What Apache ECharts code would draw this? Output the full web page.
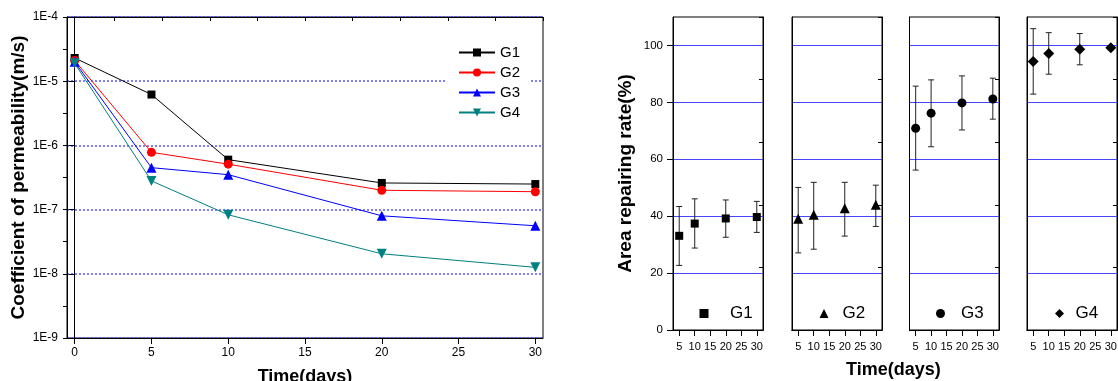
<!DOCTYPE html>
<html>
<head>
<meta charset="utf-8">
<script src="https://cdn.jsdelivr.net/npm/echarts@6/dist/echarts.min.js"></script>
<style>
  html, body { margin: 0; padding: 0; background: #fff; }
  #chart { width: 1118px; height: 381px; }
</style>
</head>
<body>
<div id="chart"></div>
<script>
// permeability (m/s) per group, left panel
const days = [0, 5, 10, 20, 30];
const permG1 = [2.3e-5, 6.2e-6, 6.0e-7, 2.6e-7, 2.5e-7];
const permG2 = [2.1e-5, 7.8e-7, 5.1e-7, 2.0e-7, 1.9e-7];
const permG3 = [2.0e-5, 4.5e-7, 3.5e-7, 8.0e-8, 5.6e-8];
const permG4 = [1.9e-5, 2.8e-7, 8.3e-8, 2.05e-8, 1.26e-8];

// area repairing rate (%) with error bar ends, right panels
const repairDays = [5, 10, 20, 30];
const rateG1 = [33.1, 37.4, 39.2, 39.7];
const lowG1 = [22.7, 28.8, 32.6, 34.3];
const highG1 = [43.4, 46.1, 45.7, 45.2];
const rateG2 = [39.1, 40.5, 42.8, 44.0];
const lowG2 = [27.1, 28.4, 33.0, 36.4];
const highG2 = [50.1, 51.9, 51.9, 50.9];
const rateG3 = [70.9, 76.2, 79.8, 81.2];
const lowG3 = [56.2, 64.4, 70.3, 74.1];
const highG3 = [85.7, 87.9, 89.3, 88.5];
const rateG4 = [94.4, 97.2, 98.7, 99.2];
const lowG4 = [82.9, 89.9, 93.2, 98.5];
const highG4 = [105.9, 104.5, 104.2, 99.9];

const groups = ["G1", "G2", "G3", "G4"];
const timeTicks = [0, 5, 10, 15, 20, 25, 30];
const repairTicks = [5, 10, 15, 20, 25, 30];
const rateTicks = [0, 20, 40, 60, 80, 100];

const FONT = "Liberation Sans, Arial, sans-serif";

const permSeries = [permG1, permG2, permG3, permG4];
const lineColors = ["#000000", "#ff0000", "#0000ff", "#008080"];
const lineSymbols = ["rect", "circle", "triangle", "triangle"];
const lineSymbolSizes = [8, 9, 10, 10];
const lineRotate = [0, 0, 0, 180];

const rateSeries = [rateG1, rateG2, rateG3, rateG4];
const lowSeries = [lowG1, lowG2, lowG3, lowG4];
const highSeries = [highG1, highG2, highG3, highG4];
const rateSymbols = ["rect", "triangle", "circle", "diamond"];
const rateSymbolSizes = [8, 10, 9, 11];

// panel layout (right chart)
const panelLeft = [673, 792, 909.5, 1027];
const panelWidth = [90, 90, 89.5, 90];
const legendCenter = [704, 824, 940.5, 1059.5];
const legendText = [731, 843.5, 962, 1076.5];

const chart = echarts.init(document.getElementById("chart"), null, { renderer: "canvas" });

const grids = [{ left: 67, top: 17, width: 476, height: 321 }];
panelLeft.forEach((l, i) => grids.push({ left: l, top: 17, width: panelWidth[i], height: 313 }));
grids.forEach((g) => {
  g.show = true;
  g.borderColor = "#000";
  g.borderWidth = 1;
  g.backgroundColor = "#fff";
  g.containLabel = false;
  g.outerBoundsMode = "none";
});

const axisLine = { show: true, lineStyle: { color: "#000", width: 1 } };
const labelStyle = { color: "#000", fontFamily: FONT };

const xAxes = [
  {
    type: "value", gridIndex: 0, min: -0.5, max: 30.5,
    axisLine, splitLine: { show: false },
    axisTick: { inside: false, length: 6, customValues: timeTicks, lineStyle: { color: "#000" } },
    axisLabel: { ...labelStyle, fontSize: 12, margin: 9, customValues: timeTicks },
    name: "Time(days)", nameLocation: "middle", nameGap: 30,
    nameTextStyle: { fontFamily: FONT, fontWeight: "bold", fontSize: 18, color: "#000" },
  },
  {
    type: "value", gridIndex: 0, position: "top", min: 0, max: 10, interval: 1,
    axisLine, splitLine: { show: false }, axisLabel: { show: false },
    axisTick: { inside: true, length: 4, lineStyle: { color: "#000" } },
  },
];
const yAxes = [
  {
    type: "log", logBase: 10, gridIndex: 0, min: 1e-9, max: 1e-4,
    axisLine,
    axisTick: { inside: false, length: 6, lineStyle: { color: "#000" } },
    minorTick: { show: false },
    axisLabel: {
      ...labelStyle, fontSize: 12, margin: 9,
      formatter: (v) => "1E" + Math.round(Math.log10(v)),
    },
    splitLine: { show: true, lineStyle: { color: "#5555ff", type: [2, 2], width: 1.5 } },
    name: "Coefficient of permeability(m/s)", nameLocation: "middle", nameGap: 37,
    nameTextStyle: { fontFamily: FONT, fontWeight: "bold", fontSize: 19, color: "#000" },
  },
  {
    type: "value", gridIndex: 0, position: "right", min: 0, max: 10, interval: 1,
    axisLine, splitLine: { show: false }, axisLabel: { show: false },
    axisTick: { inside: true, length: 4, lineStyle: { color: "#000" } },
  },
];

groups.forEach((g, i) => {
  const gi = i + 1;
  xAxes.push({
    type: "value", gridIndex: gi, min: 3, max: 32,
    axisLine, splitLine: { show: false },
    axisTick: { inside: false, length: 6, customValues: repairTicks, lineStyle: { color: "#000" } },
    axisLabel: { ...labelStyle, fontSize: 11, margin: 11, customValues: repairTicks },
  });
  xAxes.push({
    type: "value", gridIndex: gi, position: "top", min: 3, max: 32,
    axisLine, splitLine: { show: false }, axisLabel: { show: false },
    axisTick: { inside: true, length: 3, customValues: repairTicks, lineStyle: { color: "#000" } },
  });
  const y = {
    type: "value", gridIndex: gi, min: 0, max: 110, interval: 20,
    axisLine,
    axisTick: { show: i === 0, inside: false, length: 6, customValues: rateTicks, lineStyle: { color: "#000" } },
    axisLabel: { show: i === 0, ...labelStyle, fontSize: 11.5, margin: 10, customValues: rateTicks },
    splitLine: { show: true, lineStyle: { color: "#4646ff", width: 1 } },
  };
  if (i === 0) {
    y.name = "Area repairing rate(%)";
    y.nameLocation = "middle";
    y.nameGap = 38;
    y.nameTextStyle = { fontFamily: FONT, fontWeight: "bold", fontSize: 19, color: "#000" };
  }
  yAxes.push(y);
  yAxes.push({
    type: "value", gridIndex: gi, position: "right", min: 0, max: 5, interval: 1,
    axisLine, splitLine: { show: false }, axisLabel: { show: false },
    axisTick: { inside: true, length: 4, lineStyle: { color: "#000" } },
  });
});

function renderErrorBar(params, api) {
  const x = api.value(0);
  const lo = api.coord([x, api.value(1)]);
  const hi = api.coord([x, api.value(2)]);
  const hw = 3;
  const style = { stroke: "#222", lineWidth: 1 };
  return {
    type: "group",
    children: [
      { type: "line", shape: { x1: lo[0], y1: lo[1], x2: hi[0], y2: hi[1] }, style },
      { type: "line", shape: { x1: lo[0] - hw, y1: lo[1], x2: lo[0] + hw, y2: lo[1] }, style },
      { type: "line", shape: { x1: hi[0] - hw, y1: hi[1], x2: hi[0] + hw, y2: hi[1] }, style },
    ],
  };
}

const series = [];
groups.forEach((g, i) => {
  series.push({
    name: g, type: "line", xAxisIndex: 0, yAxisIndex: 0,
    data: days.map((d, j) => [d, permSeries[i][j]]),
    symbol: lineSymbols[i], symbolSize: lineSymbolSizes[i], symbolRotate: lineRotate[i],
    color: lineColors[i],
    lineStyle: { color: lineColors[i], width: 1 },
    itemStyle: { color: lineColors[i] },
    animation: false,
  });
});
groups.forEach((g, i) => {
  const ax = 2 + 2 * i;
  series.push({
    name: g + " error", type: "custom", xAxisIndex: ax, yAxisIndex: ax,
    data: repairDays.map((d, j) => [d, lowSeries[i][j], highSeries[i][j]]),
    renderItem: renderErrorBar,
    encode: { x: 0, y: [1, 2] },
    z: 2, animation: false,
  });
  series.push({
    name: g + " rate", type: "scatter", xAxisIndex: ax, yAxisIndex: ax,
    data: repairDays.map((d, j) => [d, rateSeries[i][j]]),
    symbol: rateSymbols[i], symbolSize: rateSymbolSizes[i],
    itemStyle: { color: "#000", opacity: 1 },
    z: 3, animation: false,
  });
});

const legends = [
  {
    data: groups, orient: "vertical", left: 447, top: 42,
    itemWidth: 36, itemHeight: 10, itemGap: 5, itemTextGap: 5,
    backgroundColor: "#fff", padding: [3, 9, 3, 11],
    textStyle: { fontFamily: FONT, fontSize: 15, color: "#000" },
    selectedMode: false,
  },
];
groups.forEach((g, i) => {
  const s = 9;
  legends.push({
    data: [g + " rate"], left: legendCenter[i] - s / 2, top: 305,
    itemWidth: s, itemHeight: s, itemTextGap: 5,
    padding: 0, selectedMode: false,
    formatter: (name) => name.split(" ")[0],
    itemStyle: { opacity: 1 },
    textStyle: {
      fontFamily: FONT, fontSize: 17, color: "#000",
      padding: [0, 0, 0, legendText[i] - legendCenter[i] - s / 2 - 6],
    },
  });
});

chart.setOption({
  animation: false,
  backgroundColor: "#fff",
  title: {
    text: "Time(days)", left: 846, top: 361, padding: 0,
    textStyle: { fontFamily: FONT, fontWeight: "bold", fontSize: 18, color: "#000" },
  },
  legend: legends,
  grid: grids,
  xAxis: xAxes,
  yAxis: yAxes,
  series,
});
</script>
</body>
</html>
